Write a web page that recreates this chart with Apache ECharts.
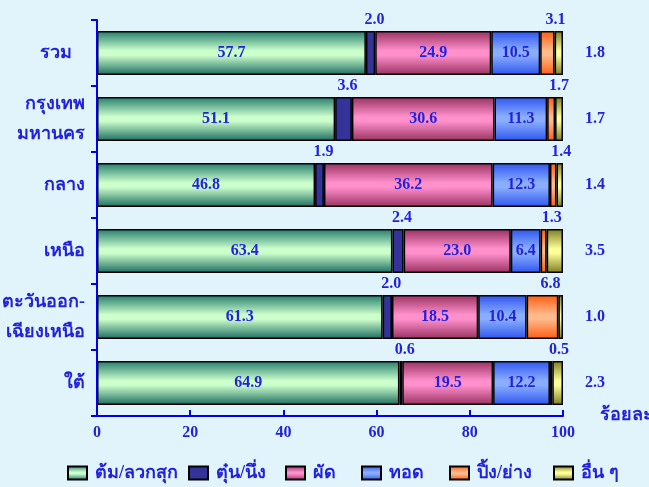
<!DOCTYPE html>
<html><head><meta charset="utf-8">
<script src="https://cdn.jsdelivr.net/npm/echarts@6/dist/echarts.min.js"></script>
<style>html,body{margin:0;padding:0;background:#E1F4FB;}#c{width:649px;height:487px;}</style>
</head><body><div id="c"></div>
<script>
var categories = ['รวม   ', 'กรุงเทพ\nมหานคร', 'กลาง', 'เหนือ', 'ตะวันออก-\nเฉียงเหนือ', 'ใต้'];
var seriesNames = ['ต้ม/ลวกสุก', 'ตุ๋น/นึ่ง', 'ผัด', 'ทอด', 'ปิ้ง/ย่าง', 'อื่น ๆ'];
var boiled = [57.7, 51.1, 46.8, 63.4, 61.3, 64.9];
var steamed = [2.0, 3.6, 1.9, 2.4, 2.0, 0.6];
var stirFried = [24.9, 30.6, 36.2, 23.0, 18.5, 19.5];
var fried = [10.5, 11.3, 12.3, 6.4, 10.4, 12.2];
var grilled = [3.1, 1.7, 1.4, 1.3, 6.8, 0.5];
var others = [1.8, 1.7, 1.4, 3.5, 1.0, 2.3];
var xTicks = [0, 20, 40, 60, 80, 100];

var TXT = '#2222DD';
var FONT = '"Liberation Serif", "DejaVu Serif", serif';
function grad(edge, center, edge2) {
  return new echarts.graphic.LinearGradient(0, 0, 0, 1, [
    {offset: 0, color: edge}, {offset: 0.45, color: center},
    {offset: 0.55, color: center}, {offset: 1, color: edge2 || edge}
  ]);
}
var fills = [
  grad('#247C6C', '#CCFFCC', '#1A6A60'),
  '#333399',
  grad('#983060', '#FF90CC'),
  grad('#2E55EE', '#8AAEFF'),
  grad('#FF5C10', '#FFBA8C'),
  grad('#7C7C20', '#FFFF99')
];
var datas = [boiled, steamed, stirFried, fried, grilled, others];
var labelCfg = [
  {show: true, position: 'inside'},
  {show: true, position: 'top', distance: 3, offset: [4, 0]},
  {show: true, position: 'inside'},
  {show: true, position: 'inside'},
  {show: true, position: 'top', distance: 3, offset: [8, 0]},
  {show: true, position: 'right', distance: 22}
];
var series = seriesNames.map(function (n, i) {
  var l = labelCfg[i];
  l.color = TXT; l.fontWeight = 'bold'; l.fontSize = 16; l.fontFamily = FONT;
  l.formatter = function (p) { return p.value.toFixed(1); };
  return {
    name: n, type: 'bar', stack: 'a', barWidth: 44,
    data: datas[i],
    itemStyle: {color: fills[i], borderColor: '#000', borderWidth: 1.5},
    label: l
  };
});
var legendLefts = [62, 183, 280, 356, 444, 548];
var legends = seriesNames.map(function (n, i) {
  return {
    bottom: 0, left: legendLefts[i], itemWidth: 19, itemHeight: 13, itemGap: 10,
    textStyle: {color: TXT, fontWeight: 'bold', fontSize: 18, fontFamily: FONT, padding: [0, 0, 0, 3]},
    data: [{name: n, icon: 'rect', itemStyle: {borderColor: '#000', borderWidth: 2}}]
  };
});
var chart = echarts.init(document.getElementById('c'));
chart.setOption({
  backgroundColor: '#E1F4FB',
  animation: false,
  grid: {left: 97, right: 86, top: 20, bottom: 71, containLabel: false, outerBoundsMode: 'none'},
  xAxis: {
    type: 'value', min: 0, max: 100, interval: 20,
    name: 'ร้อยละ', nameLocation: 'end', nameGap: 37,
    nameTextStyle: {color: TXT, fontWeight: 'bold', fontSize: 18, fontFamily: FONT, verticalAlign: 'top', padding: [-10, 0, 0, 0]},
    axisLine: {show: true, lineStyle: {color: '#0000EE', width: 2}},
    axisTick: {show: true, inside: true, length: 6, lineStyle: {color: '#0000EE', width: 2}},
    axisLabel: {color: TXT, fontWeight: 'bold', fontSize: 16, fontFamily: FONT, margin: 9,
      formatter: function (v) { return xTicks.indexOf(v) >= 0 ? String(v) : ''; }},
    splitLine: {show: false}
  },
  yAxis: {
    type: 'category', data: categories, inverse: true,
    axisLine: {show: true, lineStyle: {color: '#0000EE', width: 2}},
    axisTick: {show: true, length: 6, lineStyle: {color: '#0000EE', width: 2}},
    axisLabel: {color: TXT, fontWeight: 'bold', fontSize: 18, fontFamily: FONT, margin: 12, lineHeight: 30, padding: [8, 0, 0, 0]}
  },
  legend: legends,
  series: series
});
</script></body></html>
